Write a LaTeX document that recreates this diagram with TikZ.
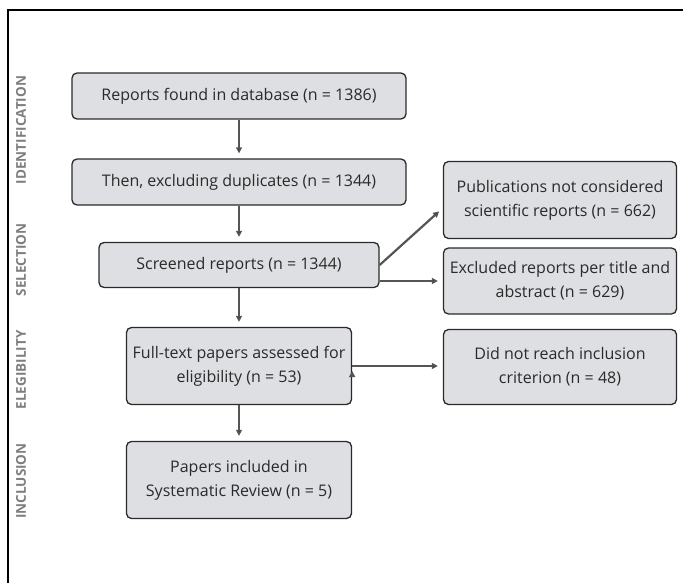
\documentclass[tikz,border=0pt]{standalone}
\usepackage{fontspec}
\setmainfont{Open Sans}
\usetikzlibrary{arrows.meta}
\definecolor{boxfill}{HTML}{DEDFE2}
\definecolor{boxtext}{HTML}{2A2A2A}
\definecolor{arrowgray}{HTML}{555555}
\definecolor{sidegray}{HTML}{7E7E7E}
\begin{document}
\begin{tikzpicture}[x=1pt,y=-1pt,
                       flow box/.style={rectangle,rounded corners=5pt,draw=boxtext,line width=1.3pt,fill=boxfill,
                                        text=boxtext,align=center,font=\fontsize{16}{24}\selectfont,inner sep=2pt},
                       side label/.style={rotate=90,text=sidegray,font=\fontsize{13.5}{13.5}\selectfont\bfseries},
                       flow arrow/.style={draw=arrowgray,line width=2.2pt,shorten >=5pt,
                                          -{Triangle[length=6pt,width=6pt]}}
                      ]
  \useasboundingbox (0,0) rectangle (683,583);
  \draw[line width=1.2pt] (8,583) -- (8,10) -- (683,10);

  \node[side label] (idn) at (21,130) {IDENTIFICATION};
  \node[side label] (sel) at (21,260) {SELECTION};
  \node[side label] (elg) at (21,370) {ELEGIBILITY};
  \node[side label] (inc) at (21,481) {INCLUSION};

  \node[flow box,minimum width=334pt,minimum height=46pt] (rep) at (239,96) {Reports found in database (n = 1386)};
  \node[flow box,minimum width=334pt,minimum height=46pt] (dup) at (239,182) {Then, excluding duplicates (n = 1344)};
  \node[flow box,minimum width=280pt,minimum height=45pt] (scr) at (239,265) {Screened reports (n = 1344)};
  \node[flow box,minimum width=225pt,minimum height=77pt] (ful) at (239,366) {Full-text papers assessed for\\eligibility (n = 53)};
  \node[flow box,minimum width=225pt,minimum height=77pt] (inr) at (239,480) {Papers included in\\Systematic Review (n = 5)};
  \node[flow box,minimum width=233pt,minimum height=77pt] (pub) at (560,200) {Publications not considered\\scientific reports (n = 662)};
  \node[flow box,minimum width=233pt,minimum height=66pt] (exc) at (560,281) {Excluded reports per title and\\abstract (n = 629)};
  \node[flow box,minimum width=233pt,minimum height=75pt] (dnr) at (560,367) {Did not reach inclusion\\criterion (n = 48)};

  \path[flow arrow]
   (rep) edge (dup)
   (dup) edge (scr)
   (scr) edge (ful)
   (ful) edge (inr)
   (scr.east) edge ([yshift=-8pt]pub.west)
   (scr.east |- exc.west) edge (exc.west)
   (ful.east) edge (ful.east -| dnr.west);
 \end{tikzpicture}
\end{document}
